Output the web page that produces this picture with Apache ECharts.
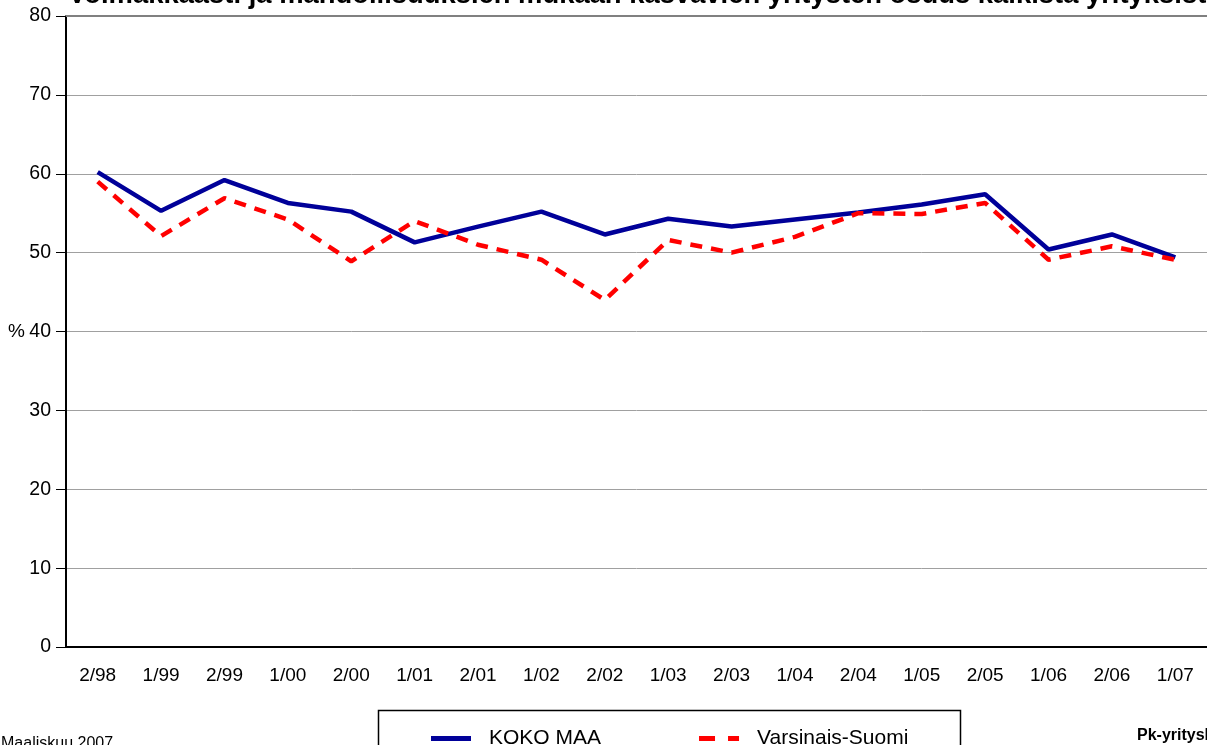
<!DOCTYPE html>
<html>
<head>
<meta charset="utf-8">
<script src="https://cdn.jsdelivr.net/npm/echarts@6/dist/echarts.min.js"></script>
<style>
  html, body { margin: 0; padding: 0; background: #fff; }
  #chart { width: 1207px; height: 745px; }
</style>
</head>
<body>
<div id="chart"></div>
<script>
var periods = ['2/98', '1/99', '2/99', '1/00', '2/00', '1/01', '2/01', '1/02', '2/02',
               '1/03', '2/03', '1/04', '2/04', '1/05', '2/05', '1/06', '2/06', '1/07'];
var kokoMaa = [60.2, 55.3, 59.2, 56.3, 55.2, 51.3, 53.3, 55.2, 52.3,
               54.3, 53.3, 54.2, 55.1, 56.1, 57.4, 50.4, 52.3, 49.4];
var varsinaisSuomi = [59.0, 52.1, 56.9, 54.2, 48.9, 54.0, 51.0, 49.1, 44.0,
                      51.6, 50.0, 52.0, 55.0, 54.9, 56.3, 49.1, 50.8, 49.1];

var chart = echarts.init(document.getElementById('chart'), null, {renderer: 'canvas'});
var font = 'Liberation Sans, Arial, sans-serif';

chart.setOption({
    animation: false,
    grid: {left: 66, right: -1, top: 16, bottom: 98, containLabel: false},
    xAxis: [{
        type: 'category',
        data: periods,
        boundaryGap: true,
        axisLine: {lineStyle: {color: '#000', width: 2}},
        axisTick: {show: false},
        axisLabel: {color: '#000', fontSize: 19, fontFamily: font, margin: 19}
    }, {
        // darker frame line along the top (80 %)
        type: 'category',
        position: 'top',
        data: periods,
        axisLine: {lineStyle: {color: '#808080', width: 2}},
        axisTick: {show: false},
        axisLabel: {show: false}
    }],
    yAxis: {
        type: 'value',
        min: 0, max: 80, interval: 10,
        axisLine: {show: true, lineStyle: {color: '#000', width: 2}},
        axisTick: {show: true, length: 10, lineStyle: {color: '#000', width: 1}},
        axisLabel: {color: '#000', fontSize: 19.5, fontFamily: font, margin: 15},
        splitLine: {lineStyle: {color: '#a0a0a0', width: 1}}
    },
    legend: {
        left: 426, top: 723,
        itemWidth: 40, itemHeight: 5,
        itemGap: 98,
        textStyle: {color: '#000', fontSize: 21, fontFamily: font, padding: [0, 0, 0, 13]},
        data: [
            {name: 'KOKO MAA', icon: 'path://M0,0h40v5h-40z'},
            {name: 'Varsinais-Suomi', icon: 'path://M0,0h16v5h-16z M29,0h11v5h-11z'}
        ]
    },
    graphic: [
        {type: 'rect', shape: {x: 378.5, y: 710.5, width: 582, height: 60},
         style: {fill: 'none', stroke: '#000', lineWidth: 1.5}},
        {type: 'text', left: 68, top: -18,
         style: {text: 'Voimakkaasti ja mahdollisuuksien mukaan kasvavien yritysten osuus kaikista yrityksistä',
                 font: 'bold 27.4px ' + font, fill: '#000'}},
        {type: 'text', left: 8, top: 322,
         style: {text: '%', font: '19px ' + font, fill: '#000'}},
        {type: 'text', left: 1, top: 736,
         style: {text: 'Maaliskuu 2007', font: '16px ' + font, fill: '#000'}},
        {type: 'text', left: 1137, top: 728,
         style: {text: 'Pk-yritysbarometri', font: 'bold 16px ' + font, fill: '#000'}}
    ],
    series: [
        {
            name: 'KOKO MAA',
            type: 'line',
            data: kokoMaa,
            symbol: 'none',
            lineStyle: {color: '#000099', width: 4.5},
            itemStyle: {color: '#000099'}
        },
        {
            name: 'Varsinais-Suomi',
            type: 'line',
            data: varsinaisSuomi,
            symbol: 'none',
            lineStyle: {color: '#ff0000', width: 4.5, type: [12, 9]},
            itemStyle: {color: '#ff0000'}
        }
    ]
});
</script>
</body>
</html>
